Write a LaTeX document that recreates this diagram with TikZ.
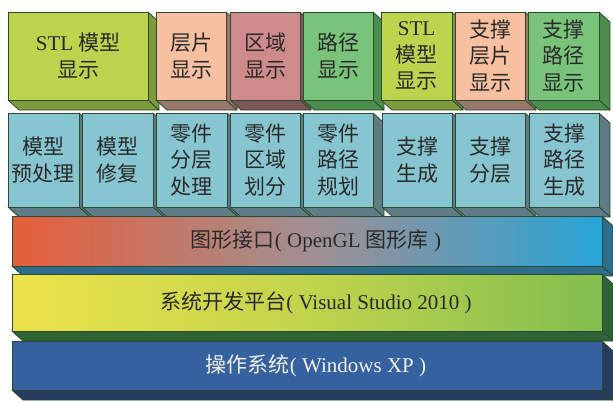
\documentclass[tikz,border=0pt]{standalone}
\usepackage{fontspec}
\setmainfont{Liberation Serif}
\newfontfamily\cjk{Noto Sans CJK SC}
\definecolor{edgec}{HTML}{2B4A30}
\definecolor{txt}{HTML}{2A2A2A}
\definecolor{lime}{HTML}{BDD44F}
\definecolor{limed}{HTML}{7F9A3B}
\definecolor{peach}{HTML}{F6C0A1}
\definecolor{peachd}{HTML}{98786A}
\definecolor{rose}{HTML}{CF8B8C}
\definecolor{rosed}{HTML}{7B5659}
\definecolor{grn}{HTML}{79C47A}
\definecolor{grnd}{HTML}{4B8E4B}
\definecolor{teal}{HTML}{87C6D0}
\definecolor{teald}{HTML}{5F7B85}
\definecolor{oA}{HTML}{E65E38}
\definecolor{oB}{HTML}{A38F92}
\definecolor{oC}{HTML}{27A4D7}
\definecolor{oD}{HTML}{2E6E8C}
\definecolor{yA}{HTML}{EDE34A}
\definecolor{yB}{HTML}{C2D44C}
\definecolor{yC}{HTML}{82BE50}
\definecolor{yD}{HTML}{2E6335}
\definecolor{bA}{HTML}{35629F}
\definecolor{bD}{HTML}{263B60}
\newcommand\lat[1]{{\rmfamily #1}}
% #1 name, #2 x1, #3 y1, #4 x2, #5 y2, #6 front options, #7 depth colour, #8 text
\newcommand\blk[8]{%
  \filldraw[face, fill=#7] (#4,#3) -- ({#4+11},{#3+10}) -- ({#4+11},{#5+10}) -- (#4,#5) -- cycle;
  \filldraw[face, fill=#7] (#2,#5) -- (#4,#5) -- ({#4+11},{#5+10}) -- ({#2+11},{#5+10}) -- cycle;
  \node[frontbox, #6, minimum width={(#4-#2)*1pt}, minimum height={(#5-#3)*1pt}] (#1) at ({(#2+#4)/2},{(#3+#5)/2}) {#8};
}
\begin{document}
\begin{tikzpicture}[x=1pt,y=-1pt,
  face/.style={draw=edgec, line width=0.8pt, line join=round},
  frontbox/.style={face, inner sep=0pt, outer sep=0pt, align=center, text=txt,
    font={\cjk\fontsize{21}{26.5}\selectfont}},
  bartext/.style={text=txt, font={\cjk\fontsize{21}{26}\selectfont}}]
\useasboundingbox (0,0) rectangle (613,402);
% top row
\blk{s1}{8}{12}{148}{100}{fill=lime}{limed}{\lat{STL} 模型\\显示}
\blk{s2}{156}{12}{226}{100}{fill=peach}{peachd}{层片\\显示}
\blk{s3}{230}{12}{300}{100}{fill=rose}{rosed}{区域\\显示}
\blk{s4}{303}{12}{373}{100}{fill=grn}{grnd}{路径\\显示}
\blk{s5}{381}{12}{452}{100}{fill=lime}{limed}{\lat{STL}\\模型\\显示}
\blk{s6}{455}{12}{525}{100}{fill=peach}{peachd}{支撑\\层片\\显示}
\blk{s7}{528}{12}{599}{100}{fill=grn}{grnd}{支撑\\路径\\显示}
% second row
\blk{m1}{8}{113}{79}{207}{fill=teal}{teald}{模型\\预处理}
\blk{m2}{82}{113}{153}{207}{fill=teal}{teald}{模型\\修复}
\blk{m3}{156}{113}{227}{207}{fill=teal}{teald}{零件\\分层\\处理}
\blk{m4}{230}{113}{300}{207}{fill=teal}{teald}{零件\\区域\\划分}
\blk{m5}{303}{113}{373}{207}{fill=teal}{teald}{零件\\路径\\规划}
\blk{m6}{382}{113}{452}{207}{fill=teal}{teald}{支撑\\生成}
\blk{m7}{455}{113}{525}{207}{fill=teal}{teald}{支撑\\分层}
\blk{m8}{529}{113}{599}{207}{fill=teal}{teald}{支撑\\路径\\生成}
% bars
\blk{g}{12}{216}{602}{266}{left color=oA, right color=oC, middle color=oB}{oD}{}
\node[bartext] (gt) at (316,241) {图形接口\lat{( OpenGL }图形库\lat{ )}};
\blk{v}{12}{274}{602}{331}{left color=yA, right color=yC, middle color=yB}{yD}{}
\node[bartext] (vt) at (316,302.5) {系统开发平台\lat{( Visual Studio 2010 )}};
\blk{w}{12}{341}{602}{390}{fill=bA}{bD}{}
\node[bartext, text=white!94!black] (wt) at (316,365.5) {操作系统\lat{( Windows XP )}};
\end{tikzpicture}
\end{document}
